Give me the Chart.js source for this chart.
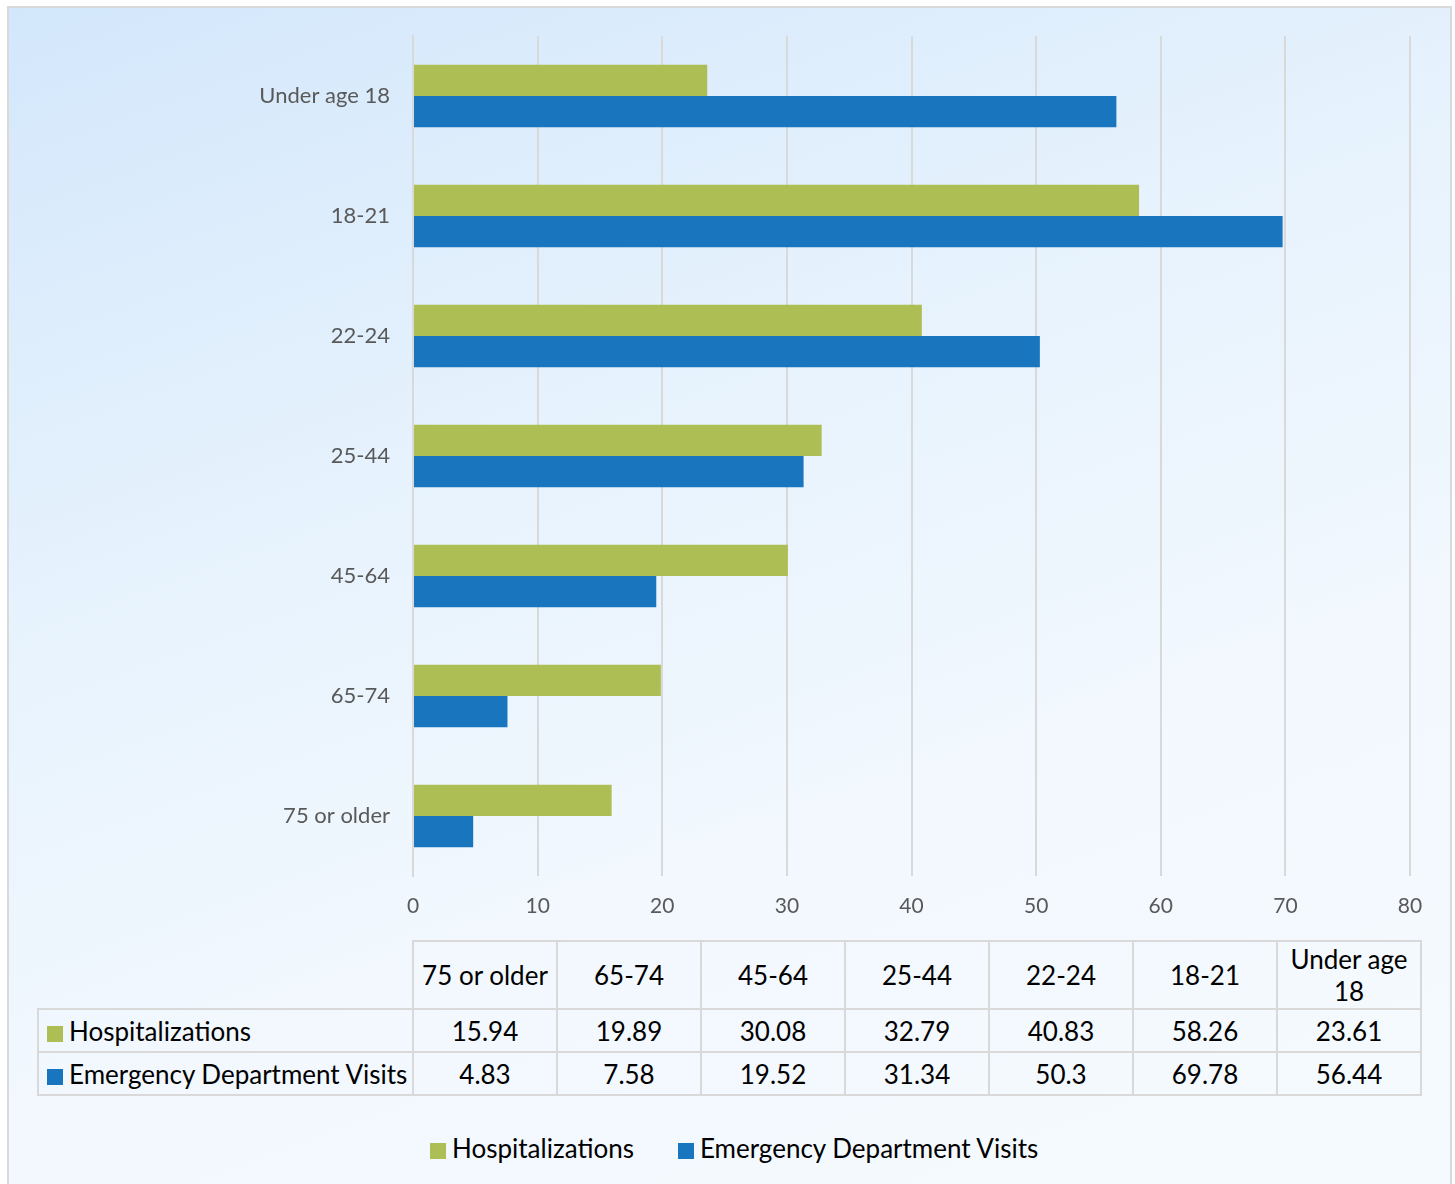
<!DOCTYPE html>
<html>
<head>
<meta charset="utf-8">
<script src="https://cdn.jsdelivr.net/npm/chart.js@4"></script>
<style>
  html, body { margin: 0; padding: 0; width: 1455px; height: 1184px; overflow: hidden; background: #fff; }
  #frame {
    position: absolute; left: 7px; top: 6px; width: 1441px; height: 1178px;
    border: 2px solid #d9d9d9; border-bottom: none;
    background: linear-gradient(160deg, #d3e7fb 0%, #e6f2fd 35%, #f2f8fe 65%, #f5fafe 100%);
    font-family: Lato, "Liberation Sans", sans-serif;
  }
  #chartBox { position: absolute; left: -9px; top: -8px; width: 1455px; height: 930px; }
  #dataTable {
    position: absolute; left: 28px; top: 932px; border-collapse: collapse;
    font-size: 26px; color: #000; table-layout: fixed;
  }
  #dataTable td { border: 2px solid #d9d9d9; text-align: center; padding: 0; line-height: 32px; }
  #dataTable td.blank { border: none; border-bottom: 2px solid #d9d9d9; }
  #dataTable td.lab { text-align: left; padding-left: 8px; white-space: nowrap; }
  .sw { display: inline-block; width: 16px; height: 16px; margin-right: 6px; vertical-align: -1px; }
  #legend { position: absolute; left: 421px; top: 1124px; font-size: 26px; color: #000; white-space: nowrap; }
  #legend span.item { margin-right: 44px; }
</style>
</head>
<body>
<div id="frame">
  <div id="chartBox"><canvas id="myChart"></canvas></div>
  <table id="dataTable"></table>
  <div id="legend"></div>
</div>
<script>
// categories and values (table order: oldest first)
const ageGroups = ['75 or older', '65-74', '45-64', '25-44', '22-24', '18-21', 'Under age 18'];
const hospitalizations = [15.94, 19.89, 30.08, 32.79, 40.83, 58.26, 23.61];
const edVisits = [4.83, 7.58, 19.52, 31.34, 50.3, 69.78, 56.44];
const xTicks = [0, 10, 20, 30, 40, 50, 60, 70, 80];

const seriesNames = ['Hospitalizations', 'Emergency Department Visits'];
const seriesColors = ['#adbf54', '#1a75bf'];

const data = {
  labels: ageGroups,
  datasets: [{
    label: seriesNames[0],
    data: hospitalizations,
    backgroundColor: seriesColors[0],
    borderWidth: 0
  }, {
    label: seriesNames[1],
    data: edVisits,
    backgroundColor: seriesColors[1],
    borderWidth: 0
  }]
};

const config = {
  type: 'bar',
  data,
  options: {
    indexAxis: 'y',
    responsive: false,
    animation: false,
    maintainAspectRatio: false,
    layout: { padding: { top: 36, right: 45, left: 0, bottom: 0 } },
    datasets: { bar: { categoryPercentage: 0.52, barPercentage: 1 } },
    plugins: { legend: { display: false }, tooltip: { enabled: false } },
    scales: {
      x: {
        min: 0, max: 80,
        afterBuildTicks: function (axis) {
          axis.ticks = xTicks.map(v => ({ value: v }));
        },
        afterFit: function (axis) { axis.height = 54; },
        grid: { color: '#d9d9d9', lineWidth: 2, drawTicks: false },
        border: { display: false },
        ticks: { color: '#595959', font: { family: 'Lato', size: 21 }, padding: 18 }
      },
      y: {
        reverse: true,
        afterFit: function (axis) { axis.width = 413; },
        grid: { display: false },
        border: { display: true, color: '#d9d9d9', width: 2 },
        ticks: { color: '#595959', font: { family: 'Lato', size: 22 }, padding: 15 }
      }
    }
  }
};

const canvas = document.getElementById('myChart');
canvas.width = 1455;
canvas.height = 930;
const myChart = new Chart(canvas, config);

// data table under the chart
const table = document.getElementById('dataTable');
let head = '<tr style="height:68px"><td class="blank" style="width:374px"></td>';
ageGroups.forEach(function (g) {
  const txt = g === 'Under age 18' ? 'Under age<br>18' : g;
  head += '<td style="width:142px">' + txt + '</td>';
});
head += '</tr>';
let rows = '';
[hospitalizations, edVisits].forEach(function (vals, i) {
  rows += '<tr style="height:43px"><td class="lab"><span class="sw" style="background:' + seriesColors[i] + '"></span>' + seriesNames[i] + '</td>';
  vals.forEach(function (v) { rows += '<td>' + v + '</td>'; });
  rows += '</tr>';
});
table.innerHTML = head + rows;

// legend
document.getElementById('legend').innerHTML = seriesNames.map(function (n, i) {
  return '<span class="item"><span class="sw" style="background:' + seriesColors[i] + '"></span>' + n + '</span>';
}).join('');
</script>
</body>
</html>
